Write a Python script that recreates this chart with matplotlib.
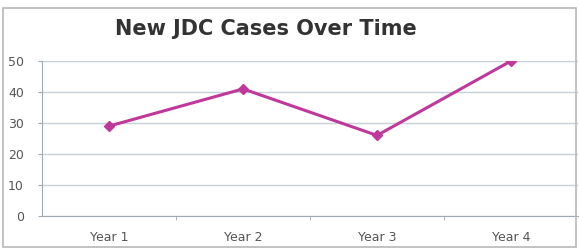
import matplotlib
matplotlib.use("Agg")
import matplotlib.pyplot as plt
from matplotlib.patches import Rectangle

categories = ["Year 1", "Year 2", "Year 3", "Year 4"]
cases = [29, 41, 26, 50]
yticks = [0, 10, 20, 30, 40, 50]

fig = plt.figure(figsize=(5.79, 2.49), dpi=100)
fig.patch.set_facecolor("white")
fig.add_artist(Rectangle((3/579, 2/249), 573/579, 239/249, transform=fig.transFigure,
                         fill=False, edgecolor="#b8b8b8", linewidth=1.2))

ax = fig.add_axes([42/579, 33/249, 536/579, 155/249])
x = list(range(len(categories)))
ax.plot(x, cases, color="#c0389a", linewidth=2.2, marker="D", markersize=5.5,
        markerfacecolor="#c0389a", markeredgecolor="#c0389a", zorder=3)

ax.set_xlim(-0.5, 3.5)
ax.set_ylim(0, 50)
ax.set_yticks(yticks)
ax.set_xticks(x)
ax.set_xticklabels(categories)
ax.set_xticks([0.5, 1.5, 2.5], minor=True)
ax.tick_params(axis="x", which="major", length=0, labelsize=9, labelcolor="#555555", pad=11)
ax.tick_params(axis="x", which="minor", length=3, color="#a0a8b0")
ax.tick_params(axis="y", length=3, color="#a0a8b0", labelsize=9, labelcolor="#555555", pad=10)
ax.grid(axis="y", color="#c5d0d8", linewidth=1)
ax.set_axisbelow(True)
for s in ["top", "right"]:
    ax.spines[s].set_visible(False)
ax.spines["left"].set_color("#a0a8b0")
ax.spines["bottom"].set_color("#a0a8b0")

fig.text(266/579, 220/249, "New JDC Cases Over Time", ha="center", va="center",
         fontsize=15, fontweight="bold", color="#333333")

fig.savefig("out.png", dpi=100)
